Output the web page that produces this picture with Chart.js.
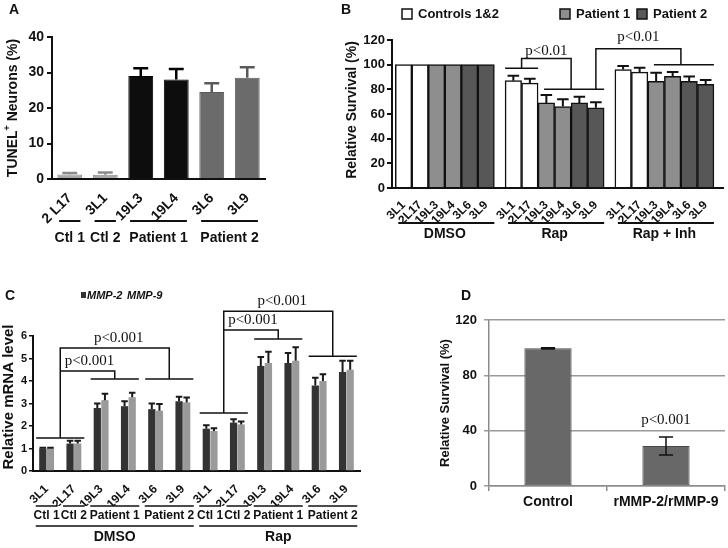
<!DOCTYPE html>
<html>
<head>
<meta charset="utf-8">
<title>Neuron survival and MMP expression</title>
<script src="https://cdn.jsdelivr.net/npm/chart.js@4.4.1/dist/chart.umd.min.js"></script>
<style>
  html, body { margin: 0; padding: 0; background: #fff; }
  #figure { position: relative; width: 728px; height: 548px; overflow: hidden; }
  #figure canvas { position: absolute; left: 0; top: 0; }
</style>
</head>
<body>
<div id="figure">
  <canvas id="chartA" width="728" height="548"></canvas>
  <canvas id="chartB" width="728" height="548"></canvas>
  <canvas id="chartC" width="728" height="548"></canvas>
  <canvas id="chartD" width="728" height="548"></canvas>
</div>
<script>
// ---- Panel A : TUNEL+ neurons
const tunelLines = ['2 L17', '3L1', '19L3', '19L4', '3L6', '3L9'];
const tunelValues = [1.3, 1.2, 29.0, 28.0, 24.5, 28.5];
const tunelErrors = [0.4, 0.6, 2.2, 3.0, 2.5, 3.0];
const tunelTicks = [0, 10, 20, 30, 40];
const tunelGroups = ['Ctl 1', 'Ctl 2', 'Patient 1', 'Patient 2'];
const tunelGroupIdx = [[0, 0], [1, 1], [2, 3], [4, 5]];

// ---- Panel B : relative survival
const survivalLines = ['3L1', '2L17', '19L3', '19L4', '3L6', '3L9'];
const survivalTreatments = ['DMSO', 'Rap', 'Rap + Inh'];
const survivalValues = [100, 100, 100, 100, 100, 100,
                        87, 85, 69, 66, 69, 65,
                        96, 94, 86.5, 90.5, 86.5, 84];
const survivalErrors = [0, 0, 0, 0, 0, 0,
                        4, 3.5, 6.5, 6, 5, 4.5,
                        3, 3.5, 7, 3.5, 4, 3.5];
const survivalTicks = [0, 20, 40, 60, 80, 100, 120];
const survivalLegend = ['Controls 1&2', 'Patient 1', 'Patient 2'];

// ---- Panel C : relative mRNA level
const mrnaLines = ['3L1', '2L17', '19L3', '19L4', '3L6', '3L9'];
const mrnaTreatments = ['DMSO', 'Rap'];
const mmp2Values = [1.0, 1.22, 2.8, 2.88, 2.75, 3.1, 1.88, 2.15, 4.67, 4.8, 3.8, 4.4];
const mmp9Values = [1.0, 1.22, 3.15, 3.28, 2.68, 3.05, 1.78, 2.07, 4.8, 4.9, 4.0, 4.5];
const mmp2Errors = [0.03, 0.12, 0.2, 0.22, 0.25, 0.2, 0.15, 0.15, 0.4, 0.45, 0.35, 0.5];
const mmp9Errors = [0.03, 0.12, 0.28, 0.2, 0.3, 0.22, 0.12, 0.13, 0.5, 0.6, 0.3, 0.4];
const mrnaTicks = [0, 1, 2, 3, 4, 5, 6];
const mrnaGroups = ['Ctl 1', 'Ctl 2', 'Patient 1', 'Patient 2'];
const mrnaGroupIdx = [[0, 0], [1, 1], [2, 3], [4, 5]];

// ---- Panel D : recombinant MMP
const rmmpCats = ['Control', 'rMMP-2/rMMP-9'];
const rmmpValues = [99.5, 29];
const rmmpErrors = [0.5, 6.5];
const rmmpTicks = [0, 40, 80, 120];

// cell line -> donor
const lineKind = { '2 L17': 'ctl', '2L17': 'ctl', '3L1': 'ctl', '19L3': 'p1', '19L4': 'p1', '3L6': 'p2', '3L9': 'p2' };

const SANS = '"Liberation Sans", Arial, sans-serif';
const SERIF = '"Liberation Serif", "Times New Roman", serif';
const INK = '#111';

Chart.defaults.font.family = SANS;
Chart.defaults.font.weight = 'bold';
Chart.defaults.color = INK;
Chart.defaults.animation = false;
Chart.defaults.responsive = false;
Chart.defaults.plugins.legend.display = false;
Chart.defaults.plugins.tooltip.enabled = false;

// ---------- helpers
function fixedWidth(w) { return s => { s.width = w; }; }
function fixedHeight(h) { return s => { s.height = h; }; }

function barSpan(chart, a, b) {
    let l = Infinity, r = -Infinity;
    chart.data.datasets.forEach((ds, di) => {
        const els = chart.getDatasetMeta(di).data;
        for (let i = a; i <= b; i++) {
            l = Math.min(l, els[i].x - els[i].width / 2);
            r = Math.max(r, els[i].x + els[i].width / 2);
        }
    });
    return [l, r];
}

function poly(ctx, pts) {
    ctx.beginPath();
    pts.forEach((p, i) => i ? ctx.lineTo(p[0], p[1]) : ctx.moveTo(p[0], p[1]));
    ctx.stroke();
}

function label(ctx, s, x, y, font, align) {
    ctx.font = font;
    ctx.textAlign = align || 'center';
    ctx.textBaseline = 'middle';
    ctx.fillText(s, x, y);
}

// rotated axis title, parts allow a superscript
function vTitle(ctx, parts, cx, cy) {
    ctx.save();
    ctx.translate(cx, cy);
    ctx.rotate(-Math.PI / 2);
    let total = 0;
    parts.forEach(p => { ctx.font = p.font; p.w = ctx.measureText(p.t).width; total += p.w; });
    let x = -total / 2;
    ctx.textAlign = 'left';
    ctx.textBaseline = 'middle';
    parts.forEach(p => { ctx.font = p.font; ctx.fillText(p.t, x, p.dy || 0); x += p.w; });
    ctx.restore();
}

// error bars read from dataset.errors
const errorBars = {
    id: 'errorBars',
    afterDatasetsDraw(chart) {
        const ctx = chart.ctx, yS = chart.scales.y;
        chart.data.datasets.forEach((ds, di) => {
            if (!ds.errors) return;
            chart.getDatasetMeta(di).data.forEach((bar, i) => {
                const e = ds.errors[i];
                if (!e) return;
                const raw = ds.data[i];
                const v = typeof raw === 'object' ? raw.y : raw;
                const top = yS.getPixelForValue(v + e);
                const bot = yS.getPixelForValue(ds.errorBoth ? v - e : v);
                const half = bar.width * ds.capRatio / 2;
                ctx.save();
                ctx.strokeStyle = Array.isArray(ds.errorColor) ? ds.errorColor[i] : ds.errorColor;
                ctx.lineWidth = ds.errorWidth;
                ctx.beginPath();
                ctx.moveTo(bar.x, bot); ctx.lineTo(bar.x, top);
                ctx.moveTo(bar.x - half, top); ctx.lineTo(bar.x + half, top);
                if (ds.errorBoth) { ctx.moveTo(bar.x - half, bot); ctx.lineTo(bar.x + half, bot); }
                ctx.stroke();
                ctx.restore();
            });
        });
    }
};

// ================= Panel A =================
const tunelColor = { ctl: '#a9a9a9', p1: '#0d0d0d', p2: '#6b6b6b' };
const tunelBorder = { ctl: '#8a8a8a', p1: '#000', p2: '#5a5a5a' };

const panelA = {
    id: 'panelA',
    afterDraw(chart) {
        const ctx = chart.ctx, x = chart.scales.x, bottom = chart.chartArea.bottom;
        const w = x.width / tunelLines.length;
        ctx.save();
        ctx.fillStyle = INK; ctx.strokeStyle = INK; ctx.lineWidth = 2;
        label(ctx, 'A', 14, 10, 'bold 14px ' + SANS);
        vTitle(ctx, [
            { t: 'TUNEL', font: 'bold 14px ' + SANS },
            { t: '+', font: 'bold 9px ' + SANS, dy: -5 },
            { t: ' Neurons (%)', font: 'bold 14px ' + SANS }
        ], 13, 108);
        tunelGroups.forEach((g, k) => {
            const [a, b] = tunelGroupIdx[k];
            const x1 = x.getPixelForValue(a) - 0.3 * w, x2 = x.getPixelForValue(b) + 0.3 * w;
            poly(ctx, [[x1, bottom + 42], [x2, bottom + 42]]);
            label(ctx, g, (x1 + x2) / 2, bottom + 59, 'bold 14px ' + SANS);
        });
        ctx.restore();
    }
};

new Chart(document.getElementById('chartA'), {
    type: 'bar',
    data: {
        labels: tunelLines,
        datasets: [{
            data: tunelValues,
            backgroundColor: tunelLines.map(l => tunelColor[lineKind[l]]),
            borderColor: tunelLines.map(l => tunelBorder[lineKind[l]]),
            borderWidth: 1,
            barPercentage: 0.7,
            categoryPercentage: 1,
            errors: tunelErrors,
            errorColor: tunelLines.map(l => tunelBorder[lineKind[l]]),
            errorWidth: 2.5,
            capRatio: 0.6
        }]
    },
    options: {
        layout: { padding: { left: 20, right: 463, top: 37, bottom: 319 } },
        scales: {
            x: {
                grid: { display: false },
                border: { color: INK, width: 2 },
                ticks: { minRotation: 45, maxRotation: 45, autoSkip: false, padding: 3, font: { size: 14 } },
                afterFit: fixedHeight(50)
            },
            y: {
                min: tunelTicks[0], max: tunelTicks[tunelTicks.length - 1],
                afterBuildTicks: s => { s.ticks = tunelTicks.map(v => ({ value: v })); },
                grid: { drawOnChartArea: false, tickLength: 5, color: INK, lineWidth: 2 },
                border: { color: INK, width: 2 },
                ticks: { padding: 3, font: { size: 14 } },
                afterFit: fixedWidth(32)
            }
        }
    },
    plugins: [errorBars, panelA]
});

// ================= Panel B =================
const GROUP_STEP = 6.65;
const survivalLabels = survivalTreatments.flatMap(() => survivalLines);
const survivalX = survivalLabels.map((_, i) => Math.floor(i / survivalLines.length) * GROUP_STEP + (i % survivalLines.length));
const survivalColor = { ctl: '#ffffff', p1: '#8e8e8e', p2: '#575757' };

const panelB = {
    id: 'panelB',
    afterDraw(chart) {
        const ctx = chart.ctx, y = chart.scales.y, bottom = chart.chartArea.bottom;
        const bars = chart.getDatasetMeta(0).data;
        const n = survivalLines.length;
        ctx.save();
        ctx.fillStyle = INK; ctx.strokeStyle = INK; ctx.lineWidth = 1.5;
        label(ctx, 'B', 346, 10, 'bold 14px ' + SANS);
        vTitle(ctx, [{ t: 'Relative Survival (%)', font: 'bold 14px ' + SANS }], 352, 110);

        // legend
        const legendX = [402, 560, 637];
        const legendFill = [survivalColor.ctl, survivalColor.p1, survivalColor.p2];
        survivalLegend.forEach((s, k) => {
            ctx.fillStyle = legendFill[k];
            ctx.fillRect(legendX[k], 9, 10, 10);
            ctx.strokeRect(legendX[k], 9, 10, 10);
            ctx.fillStyle = INK;
            label(ctx, s, legendX[k] + 16, 14, 'bold 13px ' + SANS, 'left');
        });

        // treatment groups
        ctx.lineWidth = 2;
        survivalTreatments.forEach((t, g) => {
            const [x1, x2] = barSpan(chart, g * n, g * n + n - 1);
            poly(ctx, [[x1 + 3, bottom + 35], [x2, bottom + 35]]);
            label(ctx, t, (x1 + x2) / 2, bottom + 46, 'bold 14px ' + SANS);
        });

        // significance brackets
        ctx.lineWidth = 1.5;
        const serif = '15px ' + SERIF;
        const ctl = barSpan(chart, 6, 7), pat = barSpan(chart, 8, 11), inh = barSpan(chart, 14, 17);
        const xc = (ctl[0] + ctl[1]) / 2, xp = (pat[0] + pat[1]) / 2, xi = (inh[0] + inh[1]) / 2;
        poly(ctx, [[ctl[0], y.getPixelForValue(97)], [ctl[1], y.getPixelForValue(97)]]);
        poly(ctx, [[pat[0] + 6, y.getPixelForValue(80)], [pat[1], y.getPixelForValue(80)]]);
        poly(ctx, [[xc, y.getPixelForValue(97)], [xc, y.getPixelForValue(105)],
                   [xp, y.getPixelForValue(105)], [xp, y.getPixelForValue(80)]]);
        label(ctx, 'p<0.01', (xc + xp) / 2, y.getPixelForValue(111), serif);

        const xs = bars[11].x;
        poly(ctx, [[inh[0] + 6, y.getPixelForValue(100)], [inh[1], y.getPixelForValue(100)]]);
        poly(ctx, [[xs, y.getPixelForValue(80)], [xs, y.getPixelForValue(113)],
                   [xi, y.getPixelForValue(113)], [xi, y.getPixelForValue(100)]]);
        label(ctx, 'p<0.01', (xs + xi) / 2, y.getPixelForValue(122), serif);
        ctx.restore();
    }
};

new Chart(document.getElementById('chartB'), {
    type: 'bar',
    data: {
        datasets: [{
            data: survivalValues.map((v, i) => ({ x: survivalX[i], y: v })),
            backgroundColor: survivalLabels.map(l => survivalColor[lineKind[l]]),
            borderColor: INK,
            borderWidth: 1.5,
            barPercentage: 1,
            categoryPercentage: 1,
            errors: survivalErrors,
            errorColor: INK,
            errorWidth: 2,
            capRatio: 0.7
        }]
    },
    options: {
        layout: { padding: { left: 358, right: 5, top: 40, bottom: 325 } },
        scales: {
            x: {
                type: 'linear',
                min: -0.7, max: 19.35,
                offset: false,
                afterBuildTicks: s => { s.ticks = survivalX.map(v => ({ value: v })); },
                grid: { display: false },
                border: { color: INK, width: 2 },
                ticks: {
                    minRotation: 45, maxRotation: 45, autoSkip: false, padding: 2,
                    font: { size: 12 },
                    callback: (v, i) => survivalLabels[i]
                },
                afterFit: fixedHeight(35)
            },
            y: {
                min: survivalTicks[0], max: survivalTicks[survivalTicks.length - 1],
                afterBuildTicks: s => { s.ticks = survivalTicks.map(v => ({ value: v })); },
                grid: { drawOnChartArea: false, tickLength: 5, color: INK, lineWidth: 2 },
                border: { color: INK, width: 2 },
                ticks: { padding: 2, font: { size: 13 } },
                afterFit: fixedWidth(34)
            }
        }
    },
    plugins: [errorBars, panelB]
});

// ================= Panel C =================
const mrnaLabels = mrnaTreatments.flatMap(() => mrnaLines);

const panelC = {
    id: 'panelC',
    afterDraw(chart) {
        const ctx = chart.ctx, x = chart.scales.x, y = chart.scales.y, bottom = chart.chartArea.bottom;
        const w = x.width / mrnaLabels.length;
        const n = mrnaLines.length;
        ctx.save();
        ctx.fillStyle = INK; ctx.strokeStyle = INK;
        label(ctx, 'C', 10, 296, 'bold 14px ' + SANS);
        vTitle(ctx, [{ t: 'Relative mRNA level', font: 'bold 15px ' + SANS }], 9, 397);

        // legend
        ctx.fillStyle = '#333';
        ctx.fillRect(81, 292, 5, 6);
        ctx.fillStyle = INK;
        label(ctx, 'MMP-2', 87, 296, 'italic bold 11px ' + SANS, 'left');
        label(ctx, 'MMP-9', 127, 296, 'italic bold 11px ' + SANS, 'left');

        // group rows
        ctx.lineWidth = 1.5;
        mrnaTreatments.forEach((t, g) => {
            mrnaGroups.forEach((name, k) => {
                const a = g * n + mrnaGroupIdx[k][0], b = g * n + mrnaGroupIdx[k][1];
                const x1 = x.getPixelForValue(a) - 0.4 * w, x2 = x.getPixelForValue(b) + 0.4 * w;
                poly(ctx, [[x1, bottom + 35], [x2, bottom + 35]]);
                label(ctx, name, (x1 + x2) / 2, bottom + 45, 'bold 12px ' + SANS);
            });
            const x1 = x.getPixelForValue(g * n) - 0.4 * w, x2 = x.getPixelForValue(g * n + n - 1) + 0.4 * w;
            poly(ctx, [[x1, bottom + 55], [x2, bottom + 55]]);
            label(ctx, t, (x1 + x2) / 2, bottom + 66, 'bold 14px ' + SANS);
        });

        // significance brackets
        const serif = '15px ' + SERIF;
        const spec = [
            { off: 0, ctl: 1.47, p1: 4.09, p2: 4.09, inner: 4.44, outer: 5.47 },
            { off: n, ctl: 2.58, p1: 5.87, p2: 5.1, inner: 6.27, outer: 7.1 }
        ];
        spec.forEach(s => {
            const c = barSpan(chart, s.off, s.off + 1);
            const q = barSpan(chart, s.off + 2, s.off + 3);
            const r = barSpan(chart, s.off + 4, s.off + 5);
            const xc = (c[0] + c[1]) / 2, xq = (q[0] + q[1]) / 2, xr = (r[0] + r[1]) / 2;
            poly(ctx, [[c[0] - 3, y.getPixelForValue(s.ctl)], [c[1] + 3, y.getPixelForValue(s.ctl)]]);
            poly(ctx, [[q[0] - 3, y.getPixelForValue(s.p1)], [q[1] + 3, y.getPixelForValue(s.p1)]]);
            poly(ctx, [[r[0] - 3, y.getPixelForValue(s.p2)], [r[1] + 3, y.getPixelForValue(s.p2)]]);
            poly(ctx, [[xc, y.getPixelForValue(s.ctl)], [xc, y.getPixelForValue(s.outer)],
                       [xr, y.getPixelForValue(s.outer)], [xr, y.getPixelForValue(s.p2)]]);
            poly(ctx, [[xc, y.getPixelForValue(s.inner)], [xq, y.getPixelForValue(s.inner)],
                       [xq, y.getPixelForValue(s.p1)]]);
            label(ctx, 'p<0.001', (xc + xq) / 2 + 2, y.getPixelForValue(s.inner) - 10, serif);
            label(ctx, 'p<0.001', (xc + xr) / 2 + 4, y.getPixelForValue(s.outer) - 10, serif);
        });
        ctx.restore();
    }
};

new Chart(document.getElementById('chartC'), {
    type: 'bar',
    data: {
        labels: mrnaLabels,
        datasets: [{
            label: 'MMP-2',
            data: mmp2Values,
            backgroundColor: '#333333',
            barPercentage: 0.95,
            categoryPercentage: 0.56,
            errors: mmp2Errors,
            errorColor: '#1a1a1a',
            errorWidth: 2,
            capRatio: 0.9
        }, {
            label: 'MMP-9',
            data: mmp9Values,
            backgroundColor: '#9a9a9a',
            barPercentage: 0.95,
            categoryPercentage: 0.56,
            errors: mmp9Errors,
            errorColor: '#1a1a1a',
            errorWidth: 2,
            capRatio: 0.9
        }]
    },
    options: {
        layout: { padding: { left: 15, right: 368, top: 336, bottom: 42 } },
        scales: {
            x: {
                grid: { display: false },
                border: { color: INK, width: 2 },
                ticks: { minRotation: 45, maxRotation: 45, autoSkip: false, padding: 3, font: { size: 12 } },
                afterFit: fixedHeight(35)
            },
            y: {
                min: mrnaTicks[0], max: mrnaTicks[mrnaTicks.length - 1],
                afterBuildTicks: s => { s.ticks = mrnaTicks.map(v => ({ value: v })); },
                grid: { drawOnChartArea: false, tickLength: 4, color: INK, lineWidth: 1.5 },
                border: { color: INK, width: 2 },
                ticks: { padding: 2, font: { size: 11 } },
                afterFit: fixedWidth(18)
            }
        }
    },
    plugins: [errorBars, panelC]
});

// ================= Panel D =================
const panelD = {
    id: 'panelD',
    afterDraw(chart) {
        const ctx = chart.ctx, y = chart.scales.y;
        const bars = chart.getDatasetMeta(0).data;
        ctx.save();
        ctx.fillStyle = INK;
        label(ctx, 'D', 466, 296, 'bold 14px ' + SANS);
        vTitle(ctx, [{ t: 'Relative Survival (%)', font: 'bold 13px ' + SANS }], 445, 403);
        label(ctx, 'p<0.001', bars[1].x, y.getPixelForValue(48), '15px ' + SERIF);
        ctx.restore();
    }
};

new Chart(document.getElementById('chartD'), {
    type: 'bar',
    data: {
        labels: rmmpCats,
        datasets: [{
            data: rmmpValues,
            backgroundColor: '#686868',
            borderColor: '#474747',
            borderWidth: 1,
            borderSkipped: false,
            barPercentage: 0.4,
            categoryPercentage: 1,
            errors: rmmpErrors,
            errorBoth: true,
            errorColor: INK,
            errorWidth: 1.5,
            capRatio: 0.3
        }]
    },
    options: {
        layout: { padding: { left: 452, right: 3, top: 320, bottom: 37 } },
        scales: {
            x: {
                grid: { drawOnChartArea: false, tickLength: 5, color: '#8c8c8c', lineWidth: 1.5 },
                border: { color: '#8c8c8c', width: 1.5 },
                ticks: { maxRotation: 0, minRotation: 0, padding: 3, font: { size: 14 } },
                afterFit: fixedHeight(25)
            },
            y: {
                min: rmmpTicks[0], max: rmmpTicks[rmmpTicks.length - 1],
                afterBuildTicks: s => { s.ticks = rmmpTicks.map(v => ({ value: v })); },
                grid: { tickLength: 5, color: '#9a9a9a', lineWidth: 1.5 },
                border: { color: '#8c8c8c', width: 1.5 },
                ticks: { padding: 7, font: { size: 13 } },
                afterFit: fixedWidth(37)
            }
        }
    },
    plugins: [errorBars, panelD]
});
</script>
</body>
</html>
